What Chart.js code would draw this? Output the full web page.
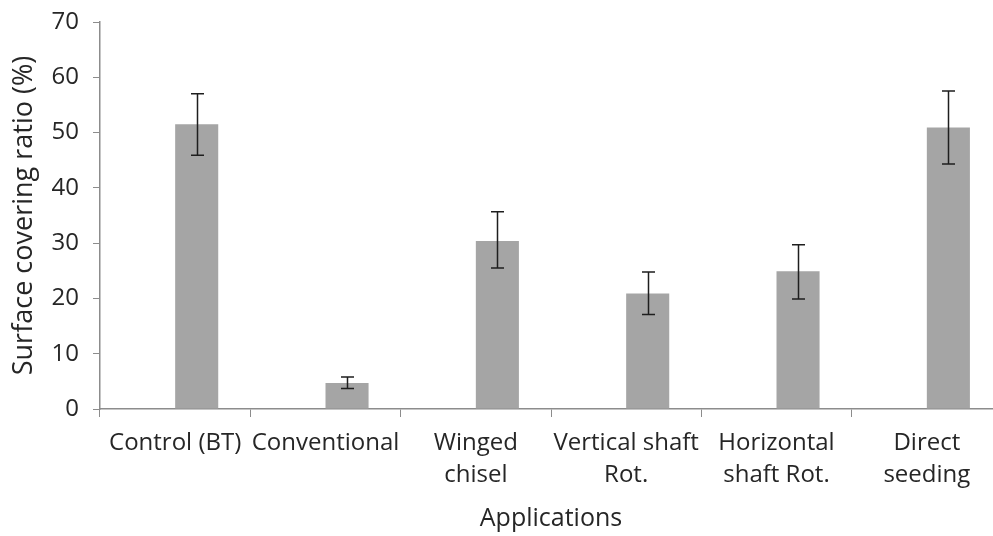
<!DOCTYPE html>
<html>
<head>
<meta charset="utf-8">
<script src="https://cdn.jsdelivr.net/npm/chart.js@4.4.0/dist/chart.umd.min.js"></script>
<style>
  html, body { margin: 0; padding: 0; background: #fff; overflow: hidden; }
  #wrap { width: 1002px; height: 536px; position: relative; }
</style>
</head>
<body>
<div id="wrap"><canvas id="c"></canvas></div>
<script>
const categories = [
  "Control (BT)",
  "Conventional",
  ["Winged", "chisel"],
  ["Vertical shaft", "Rot."],
  ["Horizontal", "shaft Rot."],
  ["Direct", "seeding"]
];
const values = [51.5, 4.7, 30.4, 20.9, 24.9, 50.9];
const errUpper = [57.0, 5.8, 35.7, 24.8, 29.7, 57.5];
const errLower = [45.9, 3.7, 25.5, 17.1, 19.9, 44.3];
const emptySeries = [null, null, null, null, null, null];
const yTicks = [0, 10, 20, 30, 40, 50, 60, 70];

const textColor = '#262626';
const axisColor = '#8c8c8c';
const fontFamily = '"Open Sans", Lato, sans-serif';

const errorBarPlugin = {
  id: 'errorBars',
  afterDatasetsDraw(chart) {
    const meta = chart.getDatasetMeta(1);
    const y = chart.scales.y;
    const ctx = chart.ctx;
    ctx.save();
    ctx.strokeStyle = '#1e1e1e';
    ctx.lineWidth = 1.5;
    meta.data.forEach((bar, i) => {
      const x = Math.round(bar.x) + 0.5;
      const yTop = y.getPixelForValue(errUpper[i]);
      const yBot = y.getPixelForValue(errLower[i]);
      const cap = 6.5;
      ctx.beginPath();
      ctx.moveTo(x, yTop); ctx.lineTo(x, yBot);
      ctx.moveTo(x - cap, yTop); ctx.lineTo(x + cap, yTop);
      ctx.moveTo(x - cap, yBot); ctx.lineTo(x + cap, yBot);
      ctx.stroke();
    });
    ctx.restore();
  }
};

new Chart(document.getElementById('c'), {
  type: 'bar',
  data: {
    labels: categories,
    datasets: [
      { label: 'blank', data: emptySeries, backgroundColor: 'rgba(0,0,0,0)' },
      { label: 'Surface covering ratio', data: values, backgroundColor: '#a5a5a5', borderWidth: 0 }
    ]
  },
  options: {
    responsive: true,
    maintainAspectRatio: false,
    animation: false,
    layout: { padding: { top: 22, right: 0, left: 0, bottom: 0 } },
    datasets: { bar: { categoryPercentage: 0.573, barPercentage: 1.0 } },
    plugins: { legend: { display: false }, tooltip: { enabled: false } },
    scales: {
      x: {
        afterFit(scale) { scale.height = 127; scale.paddingLeft = 0; scale.paddingRight = 0; },
        grid: { display: true, drawOnChartArea: false, drawTicks: true, tickLength: 8, color: axisColor, offset: true },
        border: { display: true, color: axisColor, width: 1.5 },
        ticks: {
          color: textColor, font: { family: fontFamily, size: 24, lineHeight: 1.3 },
          padding: 11, maxRotation: 0, autoSkip: false
        },
        title: {
          display: true, text: 'Applications', color: textColor,
          font: { family: fontFamily, size: 25 }, padding: { top: 0, bottom: 2 }
        }
      },
      y: {
        min: 0, max: 70,
        afterBuildTicks(scale) { scale.ticks = yTicks.map(v => ({ value: v })); },
        afterFit(scale) { scale.width = 100; scale.paddingTop = 0; scale.paddingBottom = 0; },
        grid: { display: true, drawOnChartArea: false, drawTicks: true, tickLength: 7, color: axisColor },
        border: { display: true, color: axisColor, width: 1.5 },
        ticks: {
          color: textColor, font: { family: fontFamily, size: 24 }, padding: 14
        },
        title: {
          display: true, text: 'Surface covering ratio (%)', color: textColor,
          font: { family: fontFamily, size: 27 }, padding: { top: 8, bottom: 0 }
        }
      }
    }
  },
  plugins: [errorBarPlugin]
});
</script>
</body>
</html>
